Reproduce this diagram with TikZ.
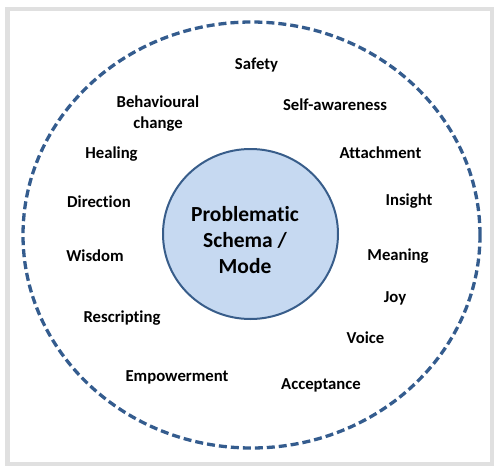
\documentclass[tikz,border=0pt]{standalone}
\usepackage{fontspec}
\setmainfont[Ligatures=NoCommon]{Carlito}
\usetikzlibrary{shapes.geometric}

\definecolor{ringblue}{RGB}{52,92,142}
\definecolor{coreblue}{RGB}{198,217,241}
\definecolor{coreedge}{RGB}{56,93,138}
\definecolor{framegray}{RGB}{224,224,224}

\begin{document}
\begin{tikzpicture}[x=1pt,y=-1pt,
		word/.style={font=\fontsize{16.7}{21}\selectfont\bfseries, align=center, inner sep=0pt, yshift=-1.5pt}]
		\useasboundingbox (0,0) rectangle (495,466);
		\draw[framegray, line width=4.5pt] (7.5,9) rectangle (492,464);

		\draw (251.5,235) node[ellipse, draw=ringblue, line width=3.3pt, dash pattern=on 8pt off 4pt, minimum width=457pt, minimum height=426pt] (ring) {};
		\draw (250.5,234) node[ellipse, draw=coreedge, fill=coreblue, line width=2pt, minimum width=175pt, minimum height=170pt] (core) {};
		\draw (245,239) node[word, font=\fontsize{21.5}{26}\selectfont\bfseries] (title) {Problematic\\Schema /\\Mode};

		\draw (256.5,64) node[word] (safety) {Safety};
		\draw (335,103) node[word] (selfaware) {Self-awareness};
		\draw (158,112) node[word] (behaviour) {Behavioural\\change};
		\draw (111.5,153) node[word] (healing) {Healing};
		\draw (380.5,151) node[word] (attach) {Attachment};
		\draw (409,200) node[word] (insight) {Insight};
		\draw (99,200) node[word] (direction) {Direction};
		\draw (95,254) node[word] (wisdom) {Wisdom};
		\draw (398,255) node[word] (meaning) {Meaning};
		\draw (395,297) node[word] (joy) {Joy};
		\draw (122,317) node[word] (rescript) {Rescripting};
		\draw (365.5,336) node[word] (voice) {Voice};
		\draw (177,376) node[word] (empower) {Empowerment};
		\draw (321,384) node[word] (accept) {Acceptance};
	\end{tikzpicture}
\end{document}
